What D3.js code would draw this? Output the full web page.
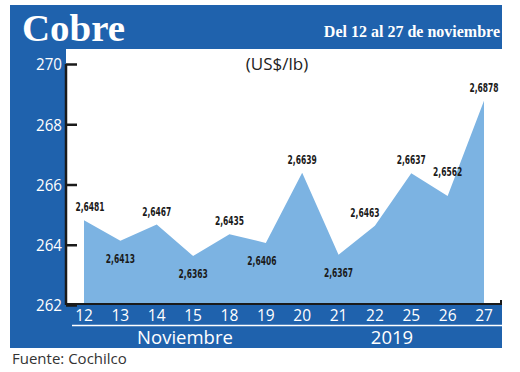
<!DOCTYPE html>
<html>
<head>
<meta charset="utf-8">
<script src="https://cdn.jsdelivr.net/npm/d3@7"></script>
<style>
  body { margin: 0; background: #fff; }
  svg { display: block; }
  text { font-family: "Open Sans", "Noto Sans", sans-serif; }
</style>
</head>
<body>
<div id="container"></div>
<script>
/* DATA */
const days = ["12", "13", "14", "15", "18", "19", "20", "21", "22", "25", "26", "27"];
const prices = [264.81, 264.13, 264.67, 263.63, 264.35, 264.06, 266.39, 263.67, 264.63, 266.37, 265.62, 268.78];
const priceLabels = ["2,6481", "2,6413", "2,6467", "2,6363", "2,6435", "2,6406", "2,6639", "2,6367", "2,6463", "2,6637", "2,6562", "2,6878"];
const yTicks = [262, 264, 266, 268, 270];
const monthLabel = "Noviembre";
const yearLabel = "2019";

/* CONSTANTS */
const W = 520, H = 372;
const blue = "#1f62ad", fill = "#7cb3e2";
const frame = { left: 10, right: 502, top: 5, bottom: 348 };
const plot = { left: 66, right: 502, top: 49, bottom: 304 };

const svg = d3.select("#container").append("svg")
  .attr("width", W)
  .attr("height", H);

// BLUE FRAME + WHITE PLOT AREA
svg.append("rect")
  .attr("x", frame.left).attr("y", frame.top)
  .attr("width", frame.right - frame.left)
  .attr("height", frame.bottom - frame.top)
  .attr("fill", blue);

svg.append("rect")
  .attr("x", plot.left).attr("y", plot.top)
  .attr("width", plot.right - plot.left)
  .attr("height", plot.bottom - plot.top)
  .attr("fill", "#fff");

// SCALES
const x = d3.scalePoint().domain(days).range([84, 484]);
const y = d3.scaleLinear().domain([262, 270]).range([305, 64]);

// AREA
const area = d3.area()
  .x((d, i) => x(days[i]))
  .y0(plot.bottom)
  .y1(d => y(d));

svg.append("path")
  .datum(prices)
  .attr("fill", fill)
  .attr("d", area);

// TITLE
svg.append("text")
  .attr("x", 22).attr("y", 41)
  .attr("fill", "#fff")
  .style("font-family", "'Liberation Serif', serif")
  .style("font-weight", "bold")
  .style("font-size", "38px")
  .attr("textLength", 103)
  .attr("lengthAdjust", "spacingAndGlyphs")
  .text("Cobre");

svg.append("text")
  .attr("x", 500).attr("y", 37)
  .attr("text-anchor", "end")
  .attr("fill", "#fff")
  .style("font-family", "'Liberation Serif', serif")
  .style("font-weight", "bold")
  .style("font-size", "16px")
  .text("Del 12 al 27 de noviembre");

// UNITS
svg.append("text")
  .attr("x", 277).attr("y", 70)
  .attr("text-anchor", "middle")
  .attr("fill", "#222")
  .style("font-size", "17px")
  .text("(US$/lb)");

// Y AXIS
const yAxis = svg.append("g")
  .attr("transform", "translate(" + plot.left + ",0)")
  .call(d3.axisRight(y).tickValues(yTicks).tickSize(11).tickFormat(d3.format("d")));
yAxis.select(".domain").attr("stroke", "#1a1a1a").attr("stroke-width", 2.5)
  .attr("d", "M0,64V305");
yAxis.selectAll(".tick line").attr("stroke", "#1a1a1a").attr("stroke-width", 2.5);
yAxis.selectAll(".tick text")
  .attr("x", -4).attr("dy", "0.35em")
  .attr("text-anchor", "end")
  .attr("fill", "#fff")
  .style("font-size", "17px")
  .style("font-family", "'Open Sans', sans-serif")
  .attr("textLength", 26)
  .attr("lengthAdjust", "spacingAndGlyphs");

// X AXIS LINE
svg.append("path")
  .attr("d", "M" + plot.left + "," + plot.bottom + "H" + (plot.right - 1) + "V" + (plot.bottom - 4))
  .attr("fill", "none")
  .attr("stroke", "#1a1a1a")
  .attr("stroke-width", 2);

// X TICK LABELS
svg.append("g")
  .selectAll("text")
  .data(days)
  .join("text")
  .attr("x", d => x(d))
  .attr("y", 321)
  .attr("text-anchor", "middle")
  .attr("fill", "#fff")
  .style("font-size", "15.5px")
  .text(d => d);

svg.append("line")
  .attr("x1", 72).attr("x2", plot.right)
  .attr("y1", 325.5).attr("y2", 325.5)
  .attr("stroke", "#fff")
  .attr("stroke-width", 1.5);

svg.append("text")
  .attr("x", 185).attr("y", 344)
  .attr("text-anchor", "middle")
  .attr("fill", "#fff")
  .style("font-size", "18.5px")
  .text(monthLabel);

svg.append("text")
  .attr("x", 392).attr("y", 344)
  .attr("text-anchor", "middle")
  .attr("fill", "#fff")
  .style("font-size", "18.5px")
  .text(yearLabel);

/* VALUE LABELS - below at local minimums, above otherwise */
const tweak = { "26": [0, -42], "22": [-10, 0], "12": [6, 0], "19": [-4, 0] };
svg.append("g")
  .selectAll("text")
  .data(prices)
  .join("text")
  .attr("transform", (d, i) => {
    const prev = prices[i - 1] ?? Infinity, next = prices[i + 1] ?? Infinity;
    const below = d < prev && d < next;
    const t = tweak[days[i]] || [0, 0];
    const px = x(days[i]) + t[0];
    const py = (below ? y(d) + 22 : y(d) - 9) + t[1];
    return "translate(" + px + "," + py + ") scale(0.7,1)";
  })
  .attr("text-anchor", "middle")
  .attr("fill", "#1a1a1a")
  .style("font-family", "'Liberation Sans Narrow', 'DejaVu Sans Condensed', sans-serif")
  .style("font-weight", "bold")
  .style("font-size", "12px")
  .text((d, i) => priceLabels[i]);

// SOURCE
svg.append("text")
  .attr("x", 12).attr("y", 364)
  .attr("fill", "#333")
  .style("font-size", "15px")
  .text("Fuente: Cochilco");
</script>
</body>
</html>
